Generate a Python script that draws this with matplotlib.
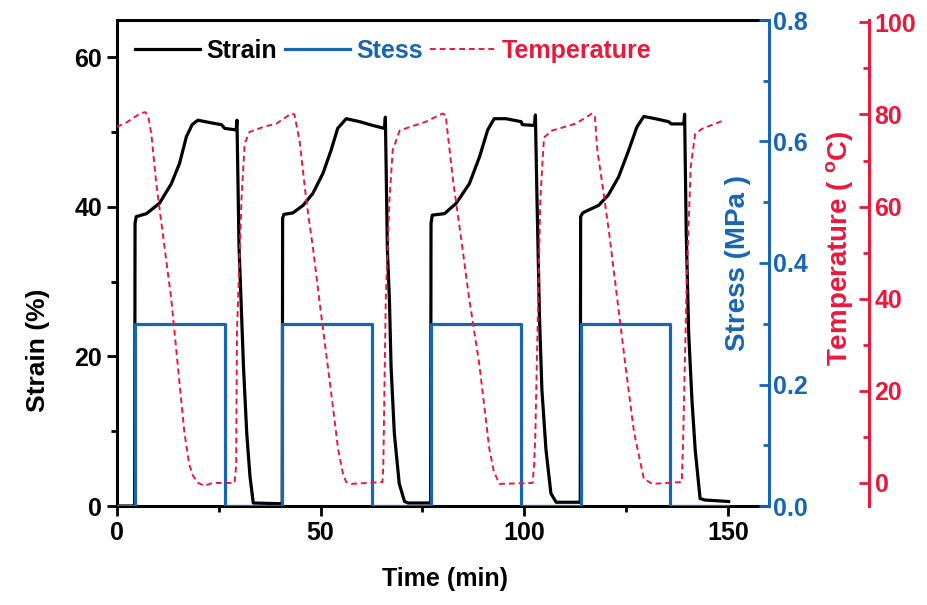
# Strain / stress / temperature cycling plot (shape-memory test)
import matplotlib
matplotlib.use('Agg')
import matplotlib.pyplot as plt
from matplotlib.ticker import MultipleLocator, FormatStrFormatter

# Strain (%) vs time (min)
strain_t = [0, 4.4, 4.5, 4.8, 7.3, 10.5, 13.4, 15.4, 17.1, 18.5, 19.9, 23.6, 25.7, 26.5, 29.3, 29.5,
            30.0, 30.5, 31.1, 31.9, 32.7, 33.5, 40.5,
            40.6, 40.7, 41.0, 43.2, 45.7, 48.1, 50.6, 52.6, 54.2, 56.3, 59.6, 62.8, 65.7, 65.9,
            66.4, 66.9, 67.3, 68.1, 69.3, 70.6, 71.5, 77.0,
            77.1, 77.4, 80.4, 83.3, 86.5, 89.0, 91.0, 92.6, 95.5, 99.2, 99.5, 102.5, 102.7,
            103.1, 103.7, 104.3, 105.3, 106.5, 107.8, 113.7,
            113.8, 114.3, 115.8, 118.2, 120.6, 123.1, 125.6, 127.6, 129.3, 132.1, 135.4, 136.0, 139.1, 139.3,
            139.7, 140.3, 141.1, 141.9, 143.1, 144.3, 150.1]
strain = [0, 0, 37.8, 38.7, 39.1, 40.5, 43.1, 45.8, 49.4, 51.0, 51.6, 51.2, 51.0, 50.5, 50.3, 51.6,
          34.8, 27.5, 18.6, 9.7, 3.9, 0.4, 0.3,
          0.3, 38.5, 39.0, 39.2, 40.2, 41.8, 44.5, 47.6, 50.5, 51.8, 51.4, 50.9, 50.5, 52.0,
          34.2, 27.5, 18.6, 9.7, 3.0, 0.6, 0.4, 0.4,
          37.8, 38.9, 39.1, 40.5, 43.1, 46.7, 50.3, 51.8, 51.8, 51.4, 51.0, 50.9, 52.3,
          40.9, 25.3, 15.5, 7.5, 1.7, 0.5, 0.5,
          38.7, 39.2, 39.6, 40.2, 41.6, 44.0, 47.6, 50.7, 52.1, 51.8, 51.4, 51.1, 51.1, 52.4,
          36.5, 23.1, 14.2, 7.5, 1.0, 0.8, 0.6]

# Stress (MPa) steps
stress_t = [0, 4.5, 4.5, 26.5, 26.5, 40.6, 40.6, 62.7, 62.7, 77.0, 77.0, 99.2, 99.2,
            113.8, 113.8, 135.8, 135.8, 150]
stress = [0, 0, 0.3, 0.3, 0, 0, 0.3, 0.3, 0, 0, 0.3, 0.3, 0, 0, 0.3, 0.3, 0, 0]

# Temperature (C)
temp_t = [0, 2.5, 5.7, 7.0, 7.7, 8.5, 9.7, 11.3, 13.4, 15.0, 16.6, 17.8, 18.7, 20.0, 21.5, 23.5,
          28.9, 29.3, 29.5, 30.6, 31.4, 32.6, 36.0, 39.2, 42.8, 43.6, 44.9, 46.5, 48.2, 50.2,
          52.3, 54.3, 55.5, 56.3, 57.6, 65.2, 65.4, 66.0, 66.9, 67.7, 69.4, 72.0, 75.8, 79.0,
          80.0, 80.7, 81.2, 82.6, 84.1, 86.5, 89.0, 91.4, 92.5, 93.9, 102.0, 102.4, 102.7,
          103.9, 104.8, 106.8, 112.6, 116.6, 117.3, 117.9, 119.1, 120.8, 122.8, 124.8, 126.9,
          129.3, 131.4, 138.6, 138.9, 139.9, 140.8, 141.9, 143.6, 148.9]
temp = [77.3, 78.3, 80.2, 80.5, 79.8, 75.8, 65.0, 54.2, 39.8, 25.4, 11.0, 4.0, 1.6, 0.0, -0.6, 0.0,
        0.0, 3.7, 32.6, 61.4, 73.7, 76.2, 77.3, 78.0, 80.2, 80.0, 74.0, 61.4, 50.6, 36.2,
        21.8, 7.4, 2.0, 0.2, -0.2, 0.2, 4.0, 39.8, 61.4, 72.2, 76.5, 77.3, 78.4, 79.8,
        80.2, 79.8, 75.8, 65.0, 55.6, 39.8, 25.4, 7.4, 2.5, -0.2, 0.0, 4.0, 11.0,
        61.4, 75.0, 76.5, 78.0, 80.2, 79.5, 72.2, 65.0, 54.2, 39.8, 25.4, 11.0,
        0.9, -0.2, 0.2, 8.0, 47.0, 68.6, 75.8, 76.9, 78.7]

blue = '#1666b3'
red = '#e8193c'

plt.rcParams['font.family'] = ['Liberation Sans', 'DejaVu Sans']
plt.rcParams['font.weight'] = 'bold'
plt.rcParams['axes.labelweight'] = 'bold'
plt.rcParams['mathtext.fontset'] = 'custom'
plt.rcParams['mathtext.rm'] = 'Liberation Sans:bold'
plt.rcParams['mathtext.it'] = 'Liberation Sans:bold'

fig = plt.figure(figsize=(9.28, 6.05), dpi=100)
ax = fig.add_axes([116.7 / 928, 1 - 506 / 605, 652.3 / 928, 486 / 605])
ax2 = ax.twinx()
ax3 = ax.twinx()

l1, = ax.plot(strain_t, strain, color='black', lw=2.3, label='Strain')
l2, = ax2.plot(stress_t, stress, color=blue, lw=2.3, label='Stess')
l3, = ax3.plot(temp_t, temp, color=red, lw=1.4, ls=(0, (3, 2)), label='Temperature')

ax.set_xlim(0, 160)
ax.set_ylim(0, 65)
ax2.set_ylim(0, 0.8)
ax3.set_ylim(-5, 100.5)

# spines
for s in ['left', 'bottom', 'top']:
    ax.spines[s].set_linewidth(2.2)
ax.spines['right'].set_visible(False)
for s in ['left', 'bottom', 'top']:
    ax2.spines[s].set_visible(False)
    ax3.spines[s].set_visible(False)
ax2.spines['right'].set_color(blue)
ax2.spines['right'].set_linewidth(2.2)
ax3.spines['right'].set_position(('outward', 72))
ax3.spines['right'].set_color(red)
ax3.spines['right'].set_linewidth(2.2)

# ticks
ax.xaxis.set_major_locator(MultipleLocator(50))
ax.xaxis.set_minor_locator(MultipleLocator(25))
ax.yaxis.set_major_locator(MultipleLocator(20))
ax.yaxis.set_minor_locator(MultipleLocator(10))
ax.tick_params(which='both', direction='out', width=2, labelsize=18, top=False, right=False)
ax.tick_params(which='major', length=7)
ax.tick_params(which='minor', length=4)

ax2.yaxis.set_major_locator(MultipleLocator(0.2))
ax2.yaxis.set_minor_locator(MultipleLocator(0.1))
ax2.yaxis.set_major_formatter(FormatStrFormatter('%.1f'))
ax2.tick_params(axis='y', which='both', direction='in', width=2, colors=blue, labelsize=18, pad=3)
ax2.tick_params(axis='y', which='major', length=7)
ax2.tick_params(axis='y', which='minor', length=4)

ax3.yaxis.set_major_locator(MultipleLocator(20))
ax3.yaxis.set_minor_locator(MultipleLocator(10))
ax3.tick_params(axis='y', which='both', direction='in', width=2, colors=red, labelsize=18, pad=4)
ax3.tick_params(axis='y', which='major', length=7)
ax3.tick_params(axis='y', which='minor', length=4)

# labels
ax.set_xlabel('Time (min)', fontsize=18)
ax.xaxis.set_label_coords(0.503, -0.125)
ax.set_ylabel('Strain (%)', fontsize=19)
ax.yaxis.set_label_coords(-0.102, 0.32)
ax2.set_ylabel('Stress (MPa )', fontsize=20, color=blue)
ax2.yaxis.set_label_coords(0.933, 0.5)
ax3.set_ylabel('Temperature ( $^{o}$C)', fontsize=20, color=red)
ax3.yaxis.set_label_coords(1.084, 0.53)

ax3.legend(handles=[l1, l2, l3], loc='upper left', bbox_to_anchor=(0.0, 1.0), ncol=3,
           frameon=False, labelcolor='linecolor', fontsize=18, handlelength=2.6,
           handletextpad=0.25, columnspacing=0.3, borderaxespad=0.35)

plt.savefig('out.png', dpi=100)
